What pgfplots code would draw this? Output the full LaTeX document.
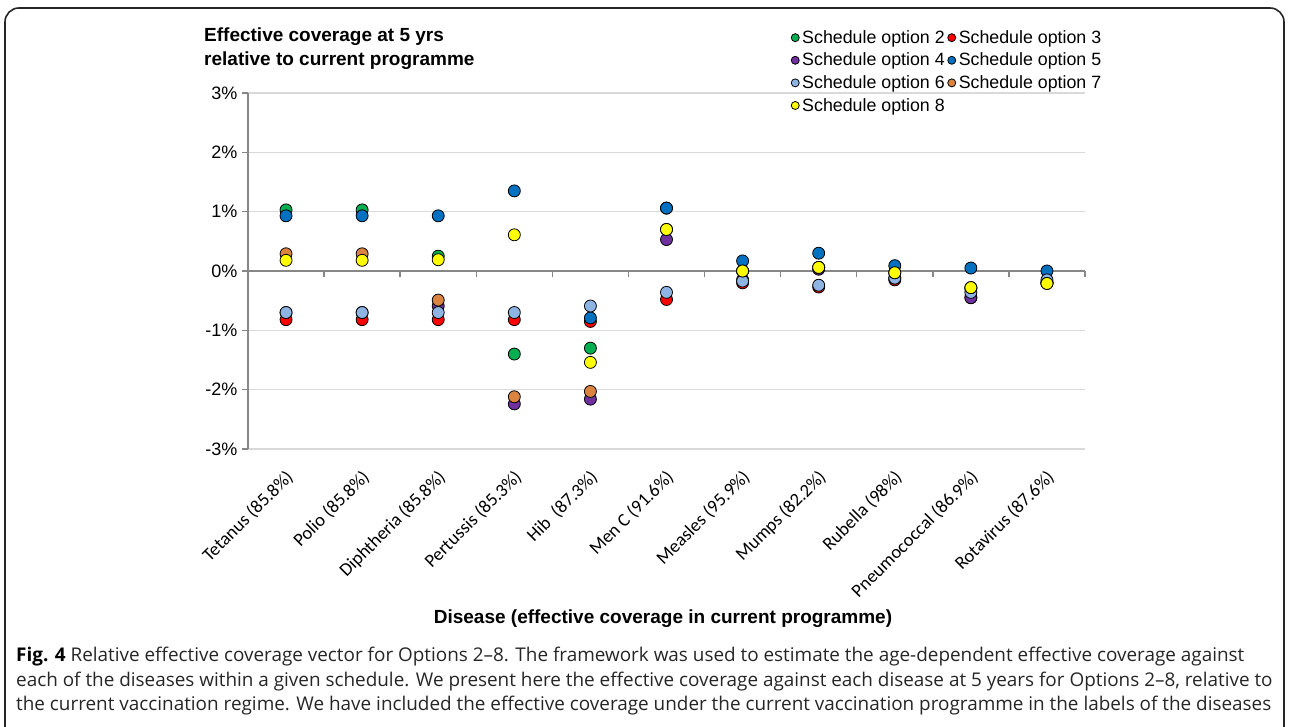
\documentclass[border=0pt]{standalone}
\usepackage{fontspec}
\setmainfont{Liberation Sans}
\newfontfamily\calfont{Carlito}
\newfontfamily\capfont{Open Sans}
\usepackage{pgfplots}
\pgfplotsset{compat=1.18}

\definecolor{optA}{HTML}{00B050}
\definecolor{optB}{HTML}{FF0000}
\definecolor{optC}{HTML}{7030A0}
\definecolor{optD}{HTML}{0070C0}
\definecolor{optE}{HTML}{8EB4E3}
\definecolor{optF}{HTML}{DA8440}
\definecolor{optG}{HTML}{FFFF00}
\definecolor{axisgray}{HTML}{878787}
\definecolor{gridgray}{HTML}{D9D9D9}

\pgfplotsset{
  dot/.style={only marks, mark=*, mark size=6pt,
    mark options={draw=black, line width=0.8pt, fill=#1}},
}

\begin{document}
\begin{tikzpicture}[x=1pt,y=1pt]
\path[use as bounding box] (0,0) rectangle (1289,727);
% figure frame (open at the bottom, the caption runs on)
\begin{scope}
\clip (0,0) rectangle (1289,727);
\draw[line width=1.6pt, black!85, rounded corners=14pt] (5,-30) -- (5,719) -- (1284,719) -- (1284,-30);
\end{scope}

% chart title
\node[anchor=base west, inner sep=0pt, font=\bfseries\fontsize{19}{22}\selectfont] at (204,685) {Effective coverage at 5 yrs};
\node[anchor=base west, inner sep=0pt, font=\bfseries\fontsize{19}{22}\selectfont] at (204,661) {relative to current programme};

\begin{axis}[
  at={(248pt,278pt)}, anchor=south west,
  scale only axis, width=837pt, height=356pt,
  xmin=0, xmax=11, ymin=-3, ymax=3,
  axis lines*=left,
  x axis line style={draw=none},
  y axis line style={color=axisgray, line width=1.8pt},
  xtick={0.5,1.5,2.5,3.5,4.5,5.5,6.5,7.5,8.5,9.5,10.5},
  xticklabels={Tetanus (85.8\%), Polio (85.8\%), Diphtheria (85.8\%), Pertussis (85.3\%), Hib\ \ (87.3\%), Men C (91.6\%), Measles (95.9\%), Mumps (82.2\%), Rubella (98\%), Pneumococcal (86.9\%), Rotavirus (87.6\%)},
  x tick style={draw=none},
  xticklabel style={font=\calfont\fontsize{18.5}{21}\selectfont, rotate=45, anchor=north east, xshift=-7pt, yshift=-5pt},
  ytick={-3,-2,-1,0,1,2,3},
  yticklabels={-3\%,-2\%,-1\%,0\%,1\%,2\%,3\%},
  yticklabel style={font=\fontsize{18}{20}\selectfont, xshift=-1pt},
  y tick style={color=axisgray, line width=1.5pt},
  tick align=outside, major tick length=6pt,
  ymajorgrids, grid style={color=gridgray, line width=1.3pt},
  clip=false,
  legend columns=2,
  legend cell align=left,
  legend style={at={(axis description cs:0.6452,1.186)}, anchor=north west,
    draw=none, fill=none,
    column sep=0pt, row sep=5.2pt,
    nodes={inner ysep=1.5pt, inner xsep=3pt, font=\fontsize{17.8}{21}\selectfont}},
  legend image code/.code={\draw[#1, mark size=4pt, line width=0.7pt] plot coordinates {(4pt,0pt)};},
]
% zero line with category ticks
\draw[color=axisgray, line width=1.8pt] (axis cs:0,0) -- (axis cs:11,0);
\pgfplotsinvokeforeach{1,...,11}{
  \draw[color=axisgray, line width=1.5pt] (axis cs:#1,0) -- ([yshift=-6pt]axis cs:#1,0);
}

\addplot[dot=optA] coordinates {(0.5,1.03) (1.5,1.03) (2.5,0.25) (3.5,-1.40) (4.5,-1.30) (5.5,1.06) (6.5,0.00) (7.5,0.06) (8.5,-0.03) (9.5,-0.30) (10.5,-0.20)};
\addlegendentry{Schedule option 2}
\addplot[dot=optB] coordinates {(0.5,-0.82) (1.5,-0.82) (2.5,-0.82) (3.5,-0.82) (4.5,-0.85) (5.5,-0.48) (6.5,-0.20) (7.5,-0.27) (8.5,-0.15) (9.5,-0.45) (10.5,-0.20)};
\addlegendentry{Schedule option 3}
\addplot[dot=optC] coordinates {(0.5,-0.70) (1.5,-0.70) (2.5,-0.59) (3.5,-2.24) (4.5,-2.16) (5.5,0.53) (6.5,-0.15) (7.5,0.03) (8.5,-0.12) (9.5,-0.45) (10.5,-0.20)};
\addlegendentry{Schedule option 4}
\addplot[dot=optD] coordinates {(0.5,0.93) (1.5,0.93) (2.5,0.93) (3.5,1.35) (4.5,-0.79) (5.5,1.06) (6.5,0.17) (7.5,0.30) (8.5,0.09) (9.5,0.05) (10.5,0.00)};
\addlegendentry{Schedule option 5}
\addplot[dot=optE] coordinates {(0.5,-0.70) (1.5,-0.70) (2.5,-0.70) (3.5,-0.70) (4.5,-0.59) (5.5,-0.36) (6.5,-0.17) (7.5,-0.24) (8.5,-0.12) (9.5,-0.36) (10.5,-0.15)};
\addlegendentry{Schedule option 6}
\addplot[dot=optF] coordinates {(0.5,0.29) (1.5,0.29) (2.5,-0.49) (3.5,-2.12) (4.5,-2.03) (5.5,0.70) (6.5,0.00) (7.5,0.06) (8.5,-0.03) (9.5,-0.28) (10.5,-0.21)};
\addlegendentry{Schedule option 7}
\addplot[dot=optG] coordinates {(0.5,0.18) (1.5,0.18) (2.5,0.19) (3.5,0.61) (4.5,-1.54) (5.5,0.70) (6.5,0.00) (7.5,0.06) (8.5,-0.03) (9.5,-0.28) (10.5,-0.21)};
\addlegendentry{Schedule option 8}
\end{axis}

% axis title
\node[anchor=base, inner sep=0pt, font=\bfseries\fontsize{19}{22}\selectfont] at (663,103) {Disease (effective coverage in current programme)};

% caption
\begin{scope}[every node/.style={anchor=base west, inner sep=0pt, font=\capfont\fontsize{18.9}{20}\selectfont, text=black!85}]
\node at (16,65) {\textbf{\color{black}Fig. 4} Relative effective coverage vector for Options 2–8. The framework was used to estimate the age-dependent effective coverage against};
\node at (16,40.5) {each of the diseases within a given schedule. We present here the effective coverage against each disease at 5 years for Options 2–8, relative to};
\node at (16,16) {the current vaccination regime. We have included the effective coverage under the current vaccination programme in the labels of the diseases};
\end{scope}
\end{tikzpicture}
\end{document}
